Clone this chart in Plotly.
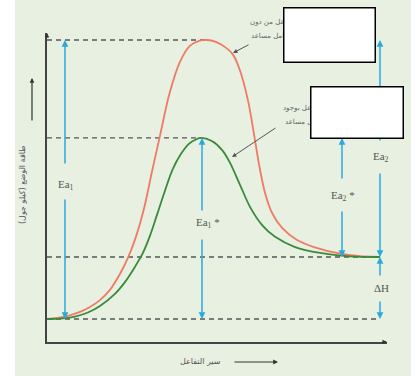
import plotly.graph_objects as go

# ---------------- data ----------------
# reaction progress (0 = reactants, 100 = products) and potential energy (arbitrary units)
uncat_progress = [0, 5.4, 9.9, 12.9, 15.9, 18.9, 21.9, 24.3, 26.7, 29.1, 31.5, 33.9, 36.9,
                  39.9, 42.9, 45.9, 48.0, 50.5, 53.5, 55.9, 58.0, 60.4, 62.2, 63.7, 65.5,
                  67.6, 70.6, 75.1, 82.0, 91.0, 100]
uncat_energy = [0, 0.8, 2.3, 3.9, 6.1, 9.4, 14.5, 19.7, 26.5, 35.5, 47.4, 59.0, 73.2,
                82.9, 88.1, 89.8, 90.0, 89.5, 87.7, 85.2, 80.0, 70.3, 59.4, 49.7, 40.6,
                34.2, 29.4, 25.5, 22.6, 20.6, 20.0]

cat_progress = [0, 3.9, 8.4, 12.3, 15.9, 20.4, 23.4, 26.4, 28.8, 30.9, 33.0, 35.4, 37.8,
                40.2, 42.6, 44.7, 46.2, 49.5, 52.6, 55.0, 58.0, 61.0, 64.6, 68.5, 74.5,
                82.0, 91.0, 100]
cat_energy = [0, 0.1, 0.8, 2.1, 4.2, 8.1, 11.9, 16.8, 21.3, 26.8, 33.5, 41.3, 48.4,
              53.2, 56.5, 57.9, 58.4, 57.4, 54.5, 50.3, 43.2, 36.1, 30.3, 26.5, 23.2,
              21.3, 20.2, 20.0]

E_reactants = 0
E_products = 20
E_ts_cat = 58.4
E_ts_uncat = 90
x_ts_uncat = 48.0
x_ts_cat = 46.2
x_end = 100

label_uncat = ["تفاعل من دون", "عامل مساعد"]
label_cat = ["تفاعل بوجود", "عامل مساعد"]
y_title = "طاقة الوضع (كيلو جول)"
x_title = "سير التفاعل"

# ---------------- layout geometry (window pixels) ----------------
W, H = 419, 376
ML, MR, MT, MB = 47, 32, 33, 34
PW, PH = W - ML - MR, H - MT - MB
X_PX = 3.33       # pixels per progress unit
Y_PX = 3.1        # pixels per energy unit
Y0_PX = 319       # pixel row of energy 0
XR = [0, PW / X_PX]
YR = [(Y0_PX - (H - MB)) / Y_PX, (Y0_PX - MT) / Y_PX]


def px2x(px):
    return (px - ML) / X_PX


def py2y(py):
    return (Y0_PX - py) / Y_PX


def ppx(px):
    return (px - ML) / PW


def ppy(py):
    return (H - MB - py) / PH


RED = "rgb(240,122,100)"
GREEN = "rgb(58,138,60)"
BLUE = "rgb(44,168,224)"
DASH = "#555555"
TXT = "#555555"

fig = go.Figure()
fig.add_trace(go.Scatter(x=uncat_progress, y=uncat_energy, mode="lines",
                         line=dict(color=RED, width=1.8, shape="spline", smoothing=1.0),
                         hoverinfo="skip", showlegend=False))
fig.add_trace(go.Scatter(x=cat_progress, y=cat_energy, mode="lines",
                         line=dict(color=GREEN, width=1.8, shape="spline", smoothing=1.0),
                         hoverinfo="skip", showlegend=False))

shapes = []
# background panel
shapes.append(dict(type="rect", xref="paper", yref="paper", x0=ppx(15), x1=ppx(411),
                   y0=ppy(380), y1=ppy(-4), fillcolor="rgb(231,240,225)", line=dict(width=0),
                   layer="below"))
# dashed energy levels
for y, xe in [(E_ts_uncat, x_ts_uncat), (E_ts_cat, x_ts_cat),
              (E_products, x_end), (E_reactants, x_end)]:
    shapes.append(dict(type="line", xref="x", yref="y", x0=0, x1=xe, y0=y, y1=y,
                       line=dict(color=DASH, width=1.3, dash="5px,4px"), layer="below"))

ann = []


def arrow(x, y_tip, y_tail, color=BLUE, x_tail=None, width=1.5):
    ann.append(dict(x=x, y=y_tip, ax=x if x_tail is None else x_tail, ay=y_tail,
                    xref="x", yref="y", axref="x", ayref="y", text="", showarrow=True,
                    arrowhead=2, arrowsize=0.9, arrowwidth=width, arrowcolor=color))


def label(x, y, text):
    ann.append(dict(x=x, y=y, xref="x", yref="y", text=text, showarrow=False,
                    xanchor="center", yanchor="middle",
                    font=dict(family="Liberation Serif", size=11, color=TXT)))


ar_font = dict(family="DejaVu Sans", size=7, color="#666666")


def ar_text(px_right, py, text):
    ann.append(dict(xref="paper", yref="paper", x=ppx(px_right), y=ppy(py), text=text,
                    showarrow=False, xanchor="right", yanchor="middle", font=ar_font))


# Arabic curve labels (partly covered by the white boxes drawn later)
ar_text(294, 22, label_uncat[0])
ar_text(291, 36, label_uncat[1])
ar_text(321, 108, label_cat[0])
ar_text(325, 122, label_cat[1])

x_ea1 = px2x(65)
arrow(x_ea1, E_ts_uncat, py2y(165))
arrow(x_ea1, E_reactants, py2y(198))
label(x_ea1 + 0.4, py2y(185), "Ea<sub>1</sub>")

x_ea1s = px2x(202)
arrow(x_ea1s, E_ts_cat, py2y(212))
arrow(x_ea1s, E_reactants, py2y(238))
label(px2x(208), py2y(223), "Ea<sub>1</sub> *")

x_ea2s = px2x(342)
arrow(x_ea2s, E_ts_cat, py2y(180))
arrow(x_ea2s, E_products, py2y(210))
label(px2x(343), py2y(196), "Ea<sub>2</sub> *")

arrow(x_end, E_ts_uncat, py2y(142))
arrow(x_end, E_products, py2y(172))
label(x_end + 0.3, py2y(157), "Ea<sub>2</sub>")

arrow(x_end, E_products, py2y(277))
arrow(x_end, E_reactants, py2y(300))
label(x_end + 0.3, py2y(288), "ΔH")

# pointer lines to the curves
arrow(px2x(233), py2y(53), py2y(44), color="#555555", x_tail=px2x(250), width=1.0)
arrow(px2x(232), py2y(157), py2y(127), color="#555555", x_tail=px2x(277), width=1.0)

# white boxes (annotations, so they sit on top of labels and arrows)
for (a, b, c, d) in [(283, 376, 7, 63), (310, 404, 86, 139)]:
    ann.append(dict(xref="paper", yref="paper", x=ppx((a + b) / 2), y=ppy((c + d) / 2),
                    xanchor="center", yanchor="middle", text=" ", showarrow=False,
                    width=b - a - 3, height=d - c - 3, bgcolor="white",
                    bordercolor="black", borderwidth=1.5, borderpad=0))

# axis titles and their arrows
ann.append(dict(xref="paper", yref="paper", x=ppx(22), y=ppy(185), text=y_title,
                textangle=-90, showarrow=False, xanchor="center", yanchor="middle",
                font=dict(family="DejaVu Sans", size=8, color=TXT)))
ann.append(dict(xref="paper", yref="paper", x=ppx(32), y=ppy(78), ax=0, ay=44, text="",
                showarrow=True, arrowhead=2, arrowsize=0.8, arrowwidth=1.2, arrowcolor="#333333"))
ann.append(dict(xref="paper", yref="paper", x=ppx(200), y=ppy(361), text=x_title,
                showarrow=False, xanchor="center", yanchor="middle",
                font=dict(family="DejaVu Sans", size=8, color=TXT)))
ann.append(dict(xref="paper", yref="paper", x=ppx(278), y=ppy(362), ax=-45, ay=0, text="",
                showarrow=True, arrowhead=2, arrowsize=0.8, arrowwidth=1.2, arrowcolor="#333333"))
# axis end arrowheads
ann.append(dict(xref="paper", yref="paper", x=0, y=1, ax=0, ay=6, text="",
                showarrow=True, arrowhead=2, arrowsize=0.6, arrowwidth=1.5, arrowcolor="#333333"))
ann.append(dict(xref="paper", yref="paper", x=1, y=0, ax=-6, ay=0, text="",
                showarrow=True, arrowhead=2, arrowsize=0.6, arrowwidth=1.5, arrowcolor="#333333"))

axis_common = dict(showgrid=False, zeroline=False, showticklabels=False, ticks="",
                   showline=True, linecolor="#444444", linewidth=1.5, fixedrange=True)
fig.update_layout(
    width=W, height=H,
    margin=dict(l=ML, r=MR, t=MT, b=MB, pad=0),
    paper_bgcolor="white", plot_bgcolor="rgba(0,0,0,0)",
    xaxis=dict(range=XR, **axis_common),
    yaxis=dict(range=YR, **axis_common),
    shapes=shapes, annotations=ann, showlegend=False,
)
fig.write_html("out.html", config={"displayModeBar": False},
               post_script="document.body.style.margin='0';")
